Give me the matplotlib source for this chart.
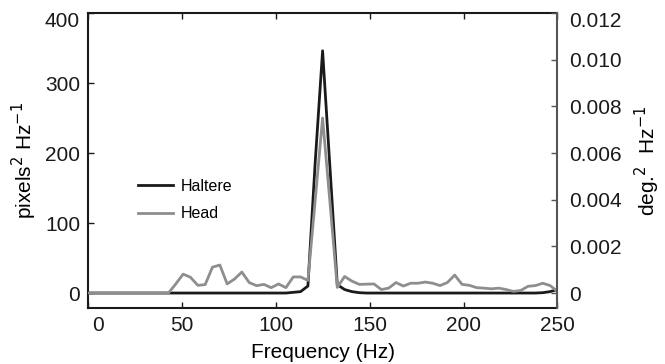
import numpy as np
import matplotlib
matplotlib.use("Agg")
import matplotlib.pyplot as plt
import matplotlib.transforms as mtransforms

plt.rcParams['font.family'] = ['Liberation Sans', 'DejaVu Sans']

# Frequency bins (Hz): 500 Hz sampling, 128-point spectrum
freq = np.linspace(0, 250, 65)

# Haltere power (pixels^2 Hz^-1), left axis
haltere = [0, 0, 0, 0, 0, 0, 0, 0, 0, 0,
           0, 0, 0, 0, 0, 0, 0, 0, 0, 0,
           0, 0, 0, 0, 0, 0, 0, 0, 1, 2,
           10, 188, 346, 180, 12, 5, 2, 0.5, 0, 0,
           0, 0, 0, 0, 0, 0, 0, 0, 0, 0,
           0, 0, 0, 0, 0, 0, 0, 0, 0, 0,
           0, 0, 0.5, 2, 5]

# Head power (deg^2 Hz^-1), right axis
head = [0, 0, 0, 0, 0, 0, 0, 0, 0, 0,
        0, 0, 0.00039, 0.00081, 0.000675, 0.00033, 0.00036, 0.00111, 0.0012, 0.00039,
        0.0006, 0.0009, 0.00045, 0.000315, 0.00037, 0.00023, 0.00039, 0.00023, 0.00069, 0.00069,
        0.00054, 0.0040, 0.0075, 0.0039, 0.00024, 0.00071, 0.00051, 0.00037, 0.00038, 0.00039,
        0.00015, 0.00021, 0.00045, 0.0003, 0.00042, 0.00042, 0.00047, 0.00042, 0.00032, 0.00045,
        0.00077, 0.00037, 0.00033, 0.00023, 0.00021, 0.00018, 0.00021, 0.00015, 0.00007, 0.00011,
        0.00029, 0.00032, 0.00042, 0.00032, 0.00007]

xticks = [0, 50, 100, 150, 200, 250]
left_ticks = [0, 100, 200, 300, 400]
right_ticks = [0, 0.002, 0.004, 0.006, 0.008, 0.010, 0.012]
right_labels = ['0', '0.002', '0.004', '0.006', '0.008', '0.010', '0.012']

fig = plt.figure(figsize=(6.65, 3.64), dpi=100)
ax = fig.add_axes([0.1319, 0.1538, 0.8383 - 0.1319, 0.9643 - 0.1538])
ax2 = ax.twinx()

black = '#1a1a1a'
gray = '#8e8e8e'

lh, = ax.plot(freq, haltere, color=black, lw=2.0, label='Haltere')
lg, = ax2.plot(freq, head, color=gray, lw=2.0, label='Head')

ax.set_xlim(0, 250)
ax.set_ylim(-21.4, 400)
ax2.set_ylim(-0.000642, 0.012)

ax.set_xticks(xticks)
ax.set_yticks(left_ticks)
ax2.set_yticks(right_ticks)
ax2.set_yticklabels(right_labels)

fs = 15
ax.tick_params(axis='x', direction='in', length=4, width=1, top=True, bottom=True,
               labelsize=fs, pad=5.5, colors=black)
ax.tick_params(axis='y', direction='in', length=4, width=1, left=True, right=False,
               labelsize=fs, pad=5.5, colors=black)
ax2.tick_params(axis='y', direction='in', length=4, width=1, left=False, right=True,
                labelsize=fs, pad=8.3, colors='#555555', labelcolor=black)

for s in ['left', 'top', 'bottom']:
    ax.spines[s].set_linewidth(1.5)
    ax.spines[s].set_color(black)
ax.spines['right'].set_visible(False)
for s in ['left', 'top', 'bottom']:
    ax2.spines[s].set_visible(False)
ax2.spines['right'].set_color('#555555')
ax2.spines['right'].set_linewidth(1.5)

# label offsets as in the reference
def shift(lbl, dx_px, dy_px):
    lbl.set_transform(lbl.get_transform() +
                      mtransforms.ScaledTranslation(dx_px / 100, dy_px / 100, fig.dpi_scale_trans))

shift(ax.get_xticklabels()[0], 10, 0)
shift(ax.get_yticklabels()[-1], 0, -7)
shift(ax2.get_yticklabels()[-1], 0, -7)

ax.set_xlabel('Frequency (Hz)', fontsize=fs, labelpad=6)
ax.set_ylabel(r'pixels$^2$ Hz$^{-1}$', fontsize=fs, labelpad=4)
ax2.set_ylabel(r'deg.$^2$  Hz$^{-1}$', fontsize=fs, labelpad=8)

leg = ax.legend([lh, lg], ['Haltere', 'Head'], loc='upper left',
                bbox_to_anchor=(0.0772, 0.487), frameon=False, fontsize=11.5,
                handlelength=2.2, handletextpad=0.44, labelspacing=0.78)

fig.savefig('out.png', dpi=100)
